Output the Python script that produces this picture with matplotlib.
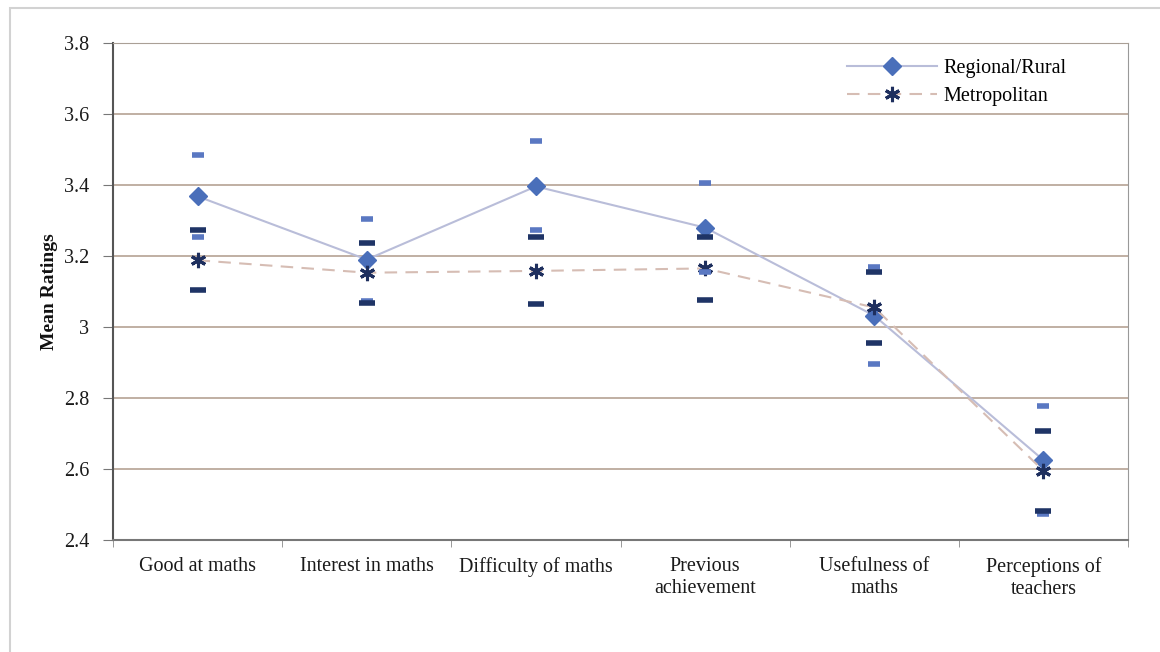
import numpy as np
import matplotlib.pyplot as plt
from matplotlib.patches import Rectangle

# Data
categories = ['Good at maths', 'Interest in maths', 'Difficulty of maths',
              'Previous\nachievement', 'Usefulness of\nmaths', 'Perceptions of\nteachers']

regional_mean = [3.368, 3.190, 3.396, 3.280, 3.032, 2.625]
regional_hi = [3.485, 3.305, 3.523, 3.405, 3.168, 2.778]
regional_lo = [3.254, 3.073, 3.272, 3.155, 2.895, 2.472]

metro_mean = [3.188, 3.153, 3.158, 3.165, 3.055, 2.595]
metro_hi = [3.272, 3.236, 3.253, 3.253, 3.156, 2.706]
metro_lo = [3.105, 3.069, 3.066, 3.076, 2.955, 2.482]

yticks = [2.4, 2.6, 2.8, 3.0, 3.2, 3.4, 3.6, 3.8]
ytick_labels = ['2.4', '2.6', '2.8', '3', '3.2', '3.4', '3.6', '3.8']

plt.rcParams['font.family'] = ['Liberation Serif', 'DejaVu Serif']

fig = plt.figure(figsize=(11.6, 6.52), dpi=100)
ax = fig.add_axes([113 / 1160, 1 - 540 / 652, 1015 / 1160, 497 / 652])

# outer light frame of the picture
fig.patches.append(Rectangle((10 / 1160, -0.1), 1.2, 1 - 8 / 652 + 0.1,
                             transform=fig.transFigure, fill=False,
                             edgecolor='#d2d2d2', linewidth=1.5))

x = np.arange(len(categories))

# gridlines
for y in yticks[1:]:
    ax.axhline(y, color='#bba99c', linewidth=1.3, zorder=1)

# lines with markers
ax.plot(x, regional_mean, '-', color='#b9bdd9', linewidth=1.5, zorder=2,
        marker='D', markersize=9.5, markerfacecolor='#4a6fba',
        markeredgecolor='#4a6fba', label='Regional/Rural')
ax.plot(x, metro_mean, '--', color='#d6bdb4', linewidth=1.5, dashes=(6, 4), zorder=3,
        marker=(6, 2, 0), markersize=11, markeredgewidth=2.2,
        markeredgecolor='#1e2f5e', label='Metropolitan')

# caps of the error ranges
ax.plot(x, regional_hi, linestyle='none', marker='_', markersize=8,
        markeredgewidth=4, color='#5a78c2', zorder=4)
ax.plot(x, regional_lo, linestyle='none', marker='_', markersize=8,
        markeredgewidth=4, color='#5a78c2', zorder=4)
ax.plot(x, metro_hi, linestyle='none', marker='_', markersize=11,
        markeredgewidth=4, color='#1f3466', zorder=5)
ax.plot(x, metro_lo, linestyle='none', marker='_', markersize=11,
        markeredgewidth=4, color='#1f3466', zorder=5)

ax.set_xlim(-0.5, len(categories) - 0.5)
ax.set_ylim(2.4, 3.8)
ax.set_yticks(yticks)
ax.set_yticklabels(ytick_labels)
ax.set_xticks(x)
ax.set_xticklabels(categories, linespacing=1.25)
ax.set_xticks(np.arange(len(categories) + 1) - 0.5, minor=True)
ax.tick_params(axis='x', which='major', length=0, pad=12, labelsize=14.5, colors='#1a1a1a')
ax.tick_params(axis='x', which='minor', length=5, color='#888888', direction='out')
ax.tick_params(axis='y', length=7, pad=10, labelsize=14.5, color='#777777', colors='#1a1a1a')

ax.set_ylabel('Mean Ratings', fontsize=14, fontweight='bold', labelpad=4, color='#111111')

ax.spines['left'].set_color('#555555')
ax.spines['left'].set_linewidth(1.5)
ax.spines['bottom'].set_color('#777777')
ax.spines['bottom'].set_linewidth(1.5)
ax.spines['top'].set_color('#aaa096')
ax.spines['right'].set_color('#999999')

ax.legend(loc='upper left', bbox_to_anchor=(0.715, 0.985), frameon=False,
          fontsize=14.5, handlelength=4.5, handletextpad=0.3, labelspacing=0.45,
          borderaxespad=0)

fig.savefig('out.png', dpi=100)
